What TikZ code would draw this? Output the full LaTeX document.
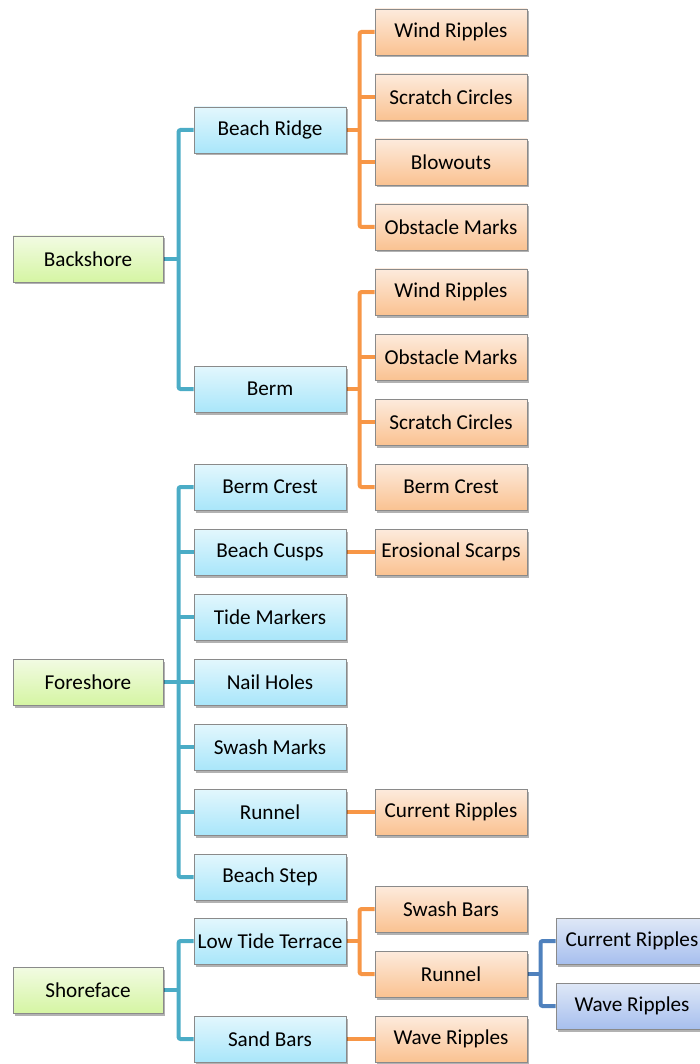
\documentclass[tikz,border=0pt]{standalone}
\usepackage{fontspec}
\setmainfont{Carlito}
\usetikzlibrary{shadows,backgrounds}
\definecolor{lnB}{HTML}{4BACC6}
\definecolor{lnO}{HTML}{F79646}
\definecolor{lnP}{HTML}{4F81BD}
\definecolor{gT}{HTML}{F2FBE3}
\definecolor{gB}{HTML}{D5F5A3}
\definecolor{bT}{HTML}{E3F7FD}
\definecolor{bB}{HTML}{A9E6FA}
\definecolor{oT}{HTML}{FDEBDD}
\definecolor{oB}{HTML}{FAC291}
\definecolor{pT}{HTML}{DFE8F7}
\definecolor{pB}{HTML}{A7BFEE}
\definecolor{bd}{HTML}{8A8A8A}
\tikzset{
  x=1pt,y=-1pt,
  box/.style={draw=bd, line width=0.8pt, minimum width=152pt, minimum height=46pt, inner sep=0pt,
    font=\fontsize{21.2}{24}\selectfont,
    drop shadow={shadow xshift=1.5pt, shadow yshift=-2.5pt, opacity=0.3, fill=black}},
  gbox/.style={box, minimum width=150pt, top color=gT, bottom color=gB},
  bbox/.style={box, top color=bT, bottom color=bB},
  obox/.style={box, top color=oT, bottom color=oB},
  pbox/.style={box, top color=pT, bottom color=pB},
  lb/.style={draw=lnB, line width=4pt, rounded corners=2pt},
  lo/.style={draw=lnO, line width=4pt, rounded corners=2pt},
  lp/.style={draw=lnP, line width=4pt, rounded corners=2pt},
}
\begin{document}
\begin{tikzpicture}
\useasboundingbox (0,0) rectangle (700,1064);
% level 1
\node[gbox] (bs) at (88,259) {Backshore};
\node[gbox] (fs) at (88,682) {Foreshore};
\node[gbox] (sf) at (88,990) {Shoreface};
% level 2
\node[bbox] (br) at (270,130) {Beach Ridge};
\node[bbox] (bm) at (270,389) {Berm};
\node[bbox] (bc) at (270,487) {Berm Crest};
\node[bbox] (cu) at (270,552) {Beach Cusps};
\node[bbox] (tm) at (270,617) {Tide Markers};
\node[bbox] (nh) at (270,682) {Nail Holes};
\node[bbox] (sm) at (270,747) {Swash Marks};
\node[bbox] (ru) at (270,812) {Runnel};
\node[bbox] (st) at (270,877) {Beach Step};
\node[bbox] (lt) at (270,941) {Low Tide Terrace};
\node[bbox] (sb) at (270,1039) {Sand Bars};
% level 3
\node[obox] (o1) at (451,32) {Wind Ripples};
\node[obox] (o2) at (451,97) {Scratch Circles};
\node[obox] (o3) at (451,162) {Blowouts};
\node[obox] (o4) at (451,227) {Obstacle Marks};
\node[obox] (o5) at (451,292) {Wind Ripples};
\node[obox] (o6) at (451,357) {Obstacle Marks};
\node[obox] (o7) at (451,422) {Scratch Circles};
\node[obox] (o8) at (451,487) {Berm Crest};
\node[obox] (o9) at (451,552) {Erosional Scarps};
\node[obox] (o10) at (451,812) {Current Ripples};
\node[obox] (o11) at (451,909) {Swash Bars};
\node[obox] (o12) at (451,974) {Runnel};
\node[obox] (o13) at (451,1039) {Wave Ripples};
% level 4
\node[pbox] (p1) at (632,941) {Current Ripples};
\node[pbox] (p2) at (632,1006) {Wave Ripples};
\begin{scope}[on background layer]
% blue connectors
\draw[lb] (br.west) -- ++(-15,0) |- (bm.west);
\draw[lb] (bs.east) -- ++(16,0);
\draw[lb] (bc.west) -- ++(-15,0) |- (st.west);
\foreach \n in {cu,tm,nh,sm,ru} \draw[lb] (\n.west) -- ++(-15,0);
\draw[lb] (fs.east) -- ++(16,0);
\draw[lb] (lt.west) -- ++(-15,0) |- (sb.west);
\draw[lb] (sf.east) -- ++(16,0);
% orange connectors
\draw[lo] (o1.west) -- ++(-15,0) |- (o4.west);
\foreach \n in {o2,o3} \draw[lo] (\n.west) -- ++(-15,0);
\draw[lo] (br.east) -- ++(14,0);
\draw[lo] (o5.west) -- ++(-15,0) |- (o8.west);
\foreach \n in {o6,o7} \draw[lo] (\n.west) -- ++(-15,0);
\draw[lo] (bm.east) -- ++(14,0);
\draw[lo] (cu.east) -- (o9.west);
\draw[lo] (ru.east) -- (o10.west);
\draw[lo] (o11.west) -- ++(-15,0) |- (o12.west);
\draw[lo] (lt.east) -- ++(14,0);
\draw[lo] (sb.east) -- (o13.west);
% purple connectors
\draw[lp] (p1.west) -- ++(-15,0) |- (p2.west);
\draw[lp] (o12.east) -- ++(15,0);
\end{scope}
\end{tikzpicture}
\end{document}
